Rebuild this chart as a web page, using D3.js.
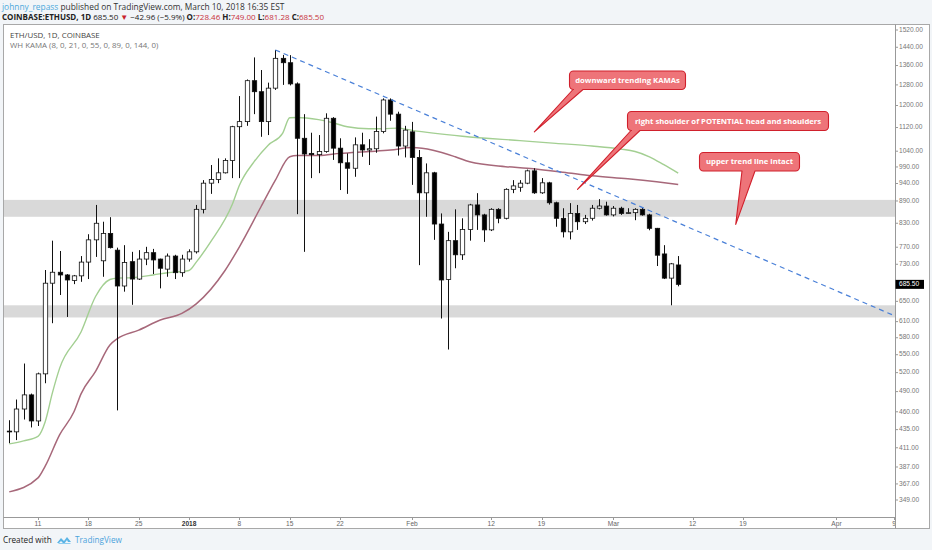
<!DOCTYPE html>
<html>
<head>
<meta charset="utf-8">
<script src="https://cdn.jsdelivr.net/npm/d3@7"></script>
<style>
  body { margin: 0; background: #f2f5f8; }
  svg { display: block; }
  text { font-family: "Open Sans", sans-serif; }
  .axis text { font-family: "Liberation Sans", sans-serif; }
</style>
</head>
<body>
<div id="container"></div>
<script>
// ETH/USD daily candles, Dec 7 2017 -> Mar 10 2018
const firstDay = '2017-12-07';
const openPrices = [
  433, 432, 464, 485, 447, 518, 688, 712, 706, 694, 704, 735, 788, 738, 804, 763, 682, 736, 697, 742, 757, 742, 719, 749, 711,
  742, 759, 867, 941, 952, 972, 1010, 1123, 1141, 1297, 1253, 1141, 1267, 1391, 1372, 1284, 1083, 1033, 1029, 1039, 1153, 1050, 1003, 986, 1061, 1044, 1048, 1106, 1221, 1168, 1057,
  1105, 1020, 913, 972, 828, 696, 786, 752, 814, 879, 852, 813, 867, 843, 923, 929, 941, 978, 913, 942, 885, 843, 808, 856, 834, 843, 870, 876,
  852, 870, 856, 858, 867, 852, 817, 754, 699, 728.46,
];
const highPrices = [
  448, 478, 535, 487, 520, 717, 786, 761, 708, 706, 749, 802, 879, 834, 846, 769, 775, 759, 763, 771, 766, 743, 755, 752, 752,
  765, 879, 950, 996, 1017, 1017, 1126, 1236, 1302, 1395, 1341, 1289, 1428, 1406, 1405, 1290, 1168, 1102, 1094, 1171, 1157, 1083, 1033, 1086, 1102, 1080, 1159, 1227, 1227, 1177, 1126,
  1140, 1044, 1001, 975, 856, 808, 867, 843, 882, 912, 855, 870, 870, 926, 950, 950, 982, 986, 956, 945, 888, 870, 884, 879, 852, 879, 895, 888,
  876, 874, 870, 870, 872, 855, 818, 775, 733, 749.0,
];
const lowPrices = [
  417, 421, 449, 438, 440, 503, 607, 663, 619, 686, 691, 697, 747, 702, 767, 462, 670, 643, 695, 728, 708, 677, 702, 697, 702,
  736, 755, 856, 910, 941, 970, 956, 956, 1126, 1168, 1088, 1094, 1260, 1280, 1278, 854, 759, 956, 971, 1035, 1012, 921, 910, 960, 1022, 996, 1035, 1100, 1144, 1026, 1020,
  936, 728, 847, 788, 616, 559, 721, 740, 786, 813, 783, 810, 830, 840, 912, 916, 938, 910, 910, 880, 821, 794, 789, 813, 828, 837, 867, 850,
  848, 852, 855, 838, 850, 812, 726, 697, 642, 681.28,
];
const closePrices = [
  432, 464, 485, 447, 518, 688, 712, 706, 695, 704, 735, 788, 830, 804, 769, 682, 734, 697, 742, 757, 740, 721, 749, 711, 742,
  759, 867, 941, 952, 972, 1010, 1123, 1141, 1297, 1253, 1141, 1267, 1391, 1372, 1284, 1083, 1031, 1029, 1039, 1153, 1050, 1003, 986, 1061, 1044, 1048, 1106, 1221, 1168, 1057, 1111,
  1020, 913, 972, 828, 695, 786, 752, 814, 879, 852, 813, 867, 843, 923, 933, 941, 978, 913, 942, 885, 843, 808, 856, 834, 843, 870, 876, 852,
  870, 856, 858, 867, 852, 817, 751, 699, 731, 685.5,
];

// WH KAMA lines, sampled where they could be read
const fastKamaDates = ['2017-12-07', '2017-12-09', '2017-12-11', '2017-12-12', '2017-12-13', '2017-12-14', '2017-12-17', '2017-12-19',
  '2017-12-21', '2017-12-22', '2017-12-24', '2017-12-27', '2017-12-29', '2018-01-01', '2018-01-02', '2018-01-04', '2018-01-07',
  '2018-01-08', '2018-01-10', '2018-01-12', '2018-01-14', '2018-01-15', '2018-01-16', '2018-01-19', '2018-01-21', '2018-01-23',
  '2018-01-26', '2018-01-28', '2018-01-30', '2018-02-01', '2018-02-08', '2018-02-16', '2018-02-21', '2018-02-26', '2018-03-02',
  '2018-03-04', '2018-03-06', '2018-03-08', '2018-03-10'];
const fastKamaValues = [416, 420, 426, 446, 488, 527, 591, 660, 696, 699, 700, 706, 711, 716, 735, 783, 880,
  935, 1005, 1060, 1100, 1155, 1156, 1148, 1137, 1123, 1116, 1116, 1118, 1110, 1090, 1075, 1066, 1057, 1047,
  1039, 1022, 997, 971];
const slowKamaDates = ['2017-12-07', '2017-12-11', '2017-12-12', '2017-12-14', '2017-12-16', '2017-12-17', '2017-12-19', '2017-12-21',
  '2017-12-22', '2017-12-25', '2017-12-28', '2017-12-31', '2018-01-02', '2018-01-06', '2018-01-08', '2018-01-11', '2018-01-13',
  '2018-01-15', '2018-01-16', '2018-01-19', '2018-01-22', '2018-01-26', '2018-01-29', '2018-02-01', '2018-02-07', '2018-02-09',
  '2018-02-14', '2018-02-17', '2018-02-22', '2018-02-26', '2018-03-03', '2018-03-07', '2018-03-10'];
const slowKamaValues = [358, 374, 388, 428, 460, 487, 522, 567, 578, 594, 613, 626, 645, 716, 771, 874, 950,
  1022, 1026, 1026, 1033, 1039, 1044, 1052, 1022, 1006, 991, 986, 974, 963, 954, 945, 937];

// support / resistance zones [low, high]
const zones = [[847, 893], [618, 642]];
// trend line through the Jan 13 high
const trendDates = ['2018-01-13', '2018-03-10'];
const trendPrices = [1428, 831];

const priceTicks = [1520, 1440, 1360, 1280, 1200, 1120, 1040, 990, 940, 890, 830, 770, 730, 650, 610, 580, 550,
  520, 490, 460, 435, 411, 387, 367, 349];
const timeTicks = ['2017-12-11', '2017-12-18', '2017-12-25', '2018-01-01', '2018-01-08', '2018-01-15', '2018-01-22',
  '2018-02-01', '2018-02-12', '2018-02-19', '2018-03-01', '2018-03-12', '2018-03-19', '2018-04-01', '2018-04-09'];
const timeTickLabels = ['11', '18', '25', '2018', '8', '15', '22', 'Feb', '12', '19', 'Mar', '12', '19', 'Apr', '9'];

const lastPrice = 685.5;

const callouts = [
  { text: 'downward trending KAMAs', box: [569.5, 71, 116, 18.5], base: [573, 583], tip: ['2018-02-18', 1105] },
  { text: 'right shoulder of POTENTIAL head and shoulders', box: [627.5, 111.5, 201, 19], base: [631, 640], tip: ['2018-02-24', 923] },
  { text: 'upper trend line intact', box: [699.5, 152.5, 100, 18.5], base: [742, 755], tip: ['2018-03-18', 827] },
];

const parse = d3.timeParse('%Y-%m-%d');
const width = 932;
const height = 550;
const plot = { left: 4, right: 895, top: 25, bottom: 517 };

const start = parse(firstDay);
const candles = closePrices.map((c, i) => ({
  date: d3.timeDay.offset(start, i),
  open: openPrices[i],
  high: highPrices[i],
  low: lowPrices[i],
  close: c,
}));

const x = d3.scaleTime()
  .domain([parse('2017-12-11'), parse('2018-04-09')])
  .range([38, 894]);
const y = d3.scaleLog()
  .domain([1520, 349])
  .range([30, 500]);

const svg = d3.select('#container')
  .append('svg')
  .attr('width', width)
  .attr('height', height);

// header
const head1 = svg.append('text').attr('x', 2).attr('y', 9.5).attr('font-size', 8.4);
head1.append('tspan').attr('fill', '#4ea9dc').text('johnny_repass');
head1.append('tspan').attr('fill', '#333').text(' published on TradingView.com, March 10, 2018 16:35 EST');

const head2 = svg.append('text').attr('x', 2).attr('y', 19.5).attr('font-size', 8).attr('fill', '#222');
const parts = [
  ['COINBASE:ETHUSD, 1D', '#222', 'bold'],
  [' 685.50 ', '#222', 'normal'],
  ['\u25BC', '#c8232c', 'normal'],
  [' \u221242.96 (\u22125.9%) ', '#222', 'normal'],
  ['O:', '#222', 'bold'], ['728.46 ', '#c8323a', 'normal'],
  ['H:', '#222', 'bold'], ['749.00 ', '#c8323a', 'normal'],
  ['L:', '#222', 'bold'], ['681.28 ', '#c8323a', 'normal'],
  ['C:', '#222', 'bold'], ['685.50', '#c8323a', 'normal'],
];
parts.forEach(p => {
  head2.append('tspan').attr('fill', p[1]).attr('font-weight', p[2]).text(p[0]);
});

// chart frame
svg.append('rect')
  .attr('x', 3.5).attr('y', 24.5)
  .attr('width', 926).attr('height', 504)
  .attr('fill', '#fff')
  .attr('stroke', '#a8a8a8');

svg.append('defs').append('clipPath').attr('id', 'plotclip')
  .append('rect')
  .attr('x', plot.left).attr('y', plot.top)
  .attr('width', plot.right - plot.left).attr('height', plot.bottom - plot.top);

const g = svg.append('g').attr('clip-path', 'url(#plotclip)');

// zones
g.selectAll('.zone')
  .data(zones)
  .enter()
  .append('rect')
  .attr('class', 'zone')
  .attr('x', plot.left)
  .attr('width', plot.right - plot.left)
  .attr('y', d => y(d[1]))
  .attr('height', d => y(d[0]) - y(d[1]))
  .attr('fill', '#d9d9d9');

// KAMA lines
const kamaLine = d3.line()
  .x(d => x(d[0]))
  .y(d => y(d[1]))
  .curve(d3.curveMonotoneX);

g.append('path')
  .datum(slowKamaDates.map((d, i) => [parse(d), slowKamaValues[i]]))
  .attr('d', kamaLine)
  .attr('fill', 'none')
  .attr('stroke', '#a7687a')
  .attr('stroke-width', 1.5);

g.append('path')
  .datum(fastKamaDates.map((d, i) => [parse(d), fastKamaValues[i]]))
  .attr('d', kamaLine)
  .attr('fill', 'none')
  .attr('stroke', '#a3cf92')
  .attr('stroke-width', 1.4);

// candles
const bodyW = 4.4;
const c = g.selectAll('.candle')
  .data(candles)
  .enter()
  .append('g')
  .attr('class', 'candle');

c.append('line')
  .attr('x1', d => Math.round(x(d.date)) + 0.5)
  .attr('x2', d => Math.round(x(d.date)) + 0.5)
  .attr('y1', d => y(d.high))
  .attr('y2', d => y(d.low))
  .attr('stroke', '#111')
  .attr('stroke-width', 1);

c.append('rect')
  .attr('x', d => Math.round(x(d.date)) + 0.5 - bodyW / 2)
  .attr('width', bodyW)
  .attr('y', d => y(Math.max(d.open, d.close)))
  .attr('height', d => Math.max(0.8, y(Math.min(d.open, d.close)) - y(Math.max(d.open, d.close))))
  .attr('fill', d => (d.close >= d.open ? '#fff' : '#000'))
  .attr('stroke', '#111')
  .attr('stroke-width', 0.8);

// trend line, extended to the right edge
const t0 = [x(parse(trendDates[0])), y(trendPrices[0])];
const t1 = [x(parse(trendDates[1])), y(trendPrices[1])];
const slope = (t1[1] - t0[1]) / (t1[0] - t0[0]);
g.append('line')
  .attr('x1', t0[0]).attr('y1', t0[1])
  .attr('x2', plot.right).attr('y2', t0[1] + slope * (plot.right - t0[0]))
  .attr('stroke', '#4a80d8')
  .attr('stroke-width', 1.2)
  .attr('stroke-dasharray', '5,4');

// callouts
function calloutPath(b, base, tip) {
  const [bx, by, bw, bh] = b;
  const r = 4;
  const p = d3.path();
  p.moveTo(bx + r, by);
  p.lineTo(bx + bw - r, by);
  p.arcTo(bx + bw, by, bx + bw, by + r, r);
  p.lineTo(bx + bw, by + bh - r);
  p.arcTo(bx + bw, by + bh, bx + bw - r, by + bh, r);
  p.lineTo(base[1], by + bh);
  p.lineTo(tip[0], tip[1]);
  p.lineTo(base[0], by + bh);
  p.lineTo(bx + r, by + bh);
  p.arcTo(bx, by + bh, bx, by + bh - r, r);
  p.lineTo(bx, by + r);
  p.arcTo(bx, by, bx + r, by, r);
  p.closePath();
  return p.toString();
}

callouts.forEach(co => {
  const tip = [x(parse(co.tip[0])), y(co.tip[1])];
  svg.append('path')
    .attr('d', calloutPath(co.box, co.base, tip))
    .attr('fill', '#ee7479')
    .attr('stroke', '#d0202c')
    .attr('stroke-width', 1.1)
    .attr('stroke-linejoin', 'round');
  svg.append('text')
    .attr('x', co.box[0] + co.box[2] / 2)
    .attr('y', co.box[1] + co.box[3] / 2 + 0.5)
    .attr('text-anchor', 'middle')
    .attr('dominant-baseline', 'middle')
    .attr('font-family', 'DejaVu Sans, sans-serif')
    .attr('font-size', 7.7)
    .attr('font-weight', 'bold')
    .attr('fill', '#fff')
    .text(co.text);
});

// legend
svg.append('text').attr('x', 10).attr('y', 37.5).attr('font-size', 7.9).attr('fill', '#444')
  .text('ETH/USD, 1D, COINBASE');
svg.append('text').attr('x', 10).attr('y', 47.5).attr('font-size', 7.9).attr('fill', '#777')
  .text('WH KAMA (8, 0, 21, 0, 55, 0, 89, 0, 144, 0)');

// price axis
const pa = svg.append('g').attr('class', 'axis');
pa.append('line')
  .attr('x1', plot.right + 0.5).attr('x2', plot.right + 0.5)
  .attr('y1', 24.5).attr('y2', 528.5)
  .attr('stroke', '#999');
pa.selectAll('.pt')
  .data(priceTicks)
  .enter()
  .append('line')
  .attr('x1', plot.right + 0.5).attr('x2', plot.right + 3)
  .attr('y1', d => y(d)).attr('y2', d => y(d))
  .attr('stroke', '#999');
pa.selectAll('.pl')
  .data(priceTicks)
  .enter()
  .append('text')
  .attr('x', plot.right + 4)
  .attr('y', d => y(d))
  .attr('dominant-baseline', 'middle')
  .attr('font-size', 6.6)
  .attr('fill', '#777')
  .text(d => d3.format('.2f')(d));

pa.append('rect')
  .attr('x', plot.right + 0.5).attr('y', y(lastPrice) - 4.5)
  .attr('width', 28.5).attr('height', 9)
  .attr('fill', '#000');
pa.append('text')
  .attr('x', plot.right + 4)
  .attr('y', y(lastPrice) + 0.3)
  .attr('dominant-baseline', 'middle')
  .attr('font-size', 6.6)
  .attr('fill', '#fff')
  .text(d3.format('.2f')(lastPrice));

// time axis
const ta = svg.append('g').attr('class', 'axis');
ta.append('line')
  .attr('x1', 3.5).attr('x2', plot.right + 0.5)
  .attr('y1', plot.bottom + 0.5).attr('y2', plot.bottom + 0.5)
  .attr('stroke', '#999');
svg.append('defs').append('clipPath').attr('id', 'timeclip')
  .append('rect')
  .attr('x', plot.left).attr('y', plot.bottom)
  .attr('width', plot.right - plot.left).attr('height', 12);
const tt = ta.append('g').attr('clip-path', 'url(#timeclip)');
tt.selectAll('.tt')
  .data(timeTicks)
  .enter()
  .append('line')
  .attr('x1', d => Math.round(x(parse(d))) + 0.5)
  .attr('x2', d => Math.round(x(parse(d))) + 0.5)
  .attr('y1', plot.bottom + 0.5).attr('y2', plot.bottom + 3)
  .attr('stroke', '#999');
tt.selectAll('.tl')
  .data(timeTicks)
  .enter()
  .append('text')
  .attr('x', d => x(parse(d)))
  .attr('y', plot.bottom + 7.5)
  .attr('text-anchor', 'middle')
  .attr('dominant-baseline', 'middle')
  .attr('font-size', 6.6)
  .attr('fill', (d, i) => (timeTickLabels[i] === '2018' ? '#333' : '#666'))
  .attr('font-weight', (d, i) => (timeTickLabels[i] === '2018' ? 'bold' : 'normal'))
  .text((d, i) => timeTickLabels[i]);

// footer
svg.append('text').attr('x', 3).attr('y', 543).attr('font-size', 8.2).attr('fill', '#222')
  .text('Created with');
const logo = svg.append('g').attr('transform', 'translate(57,536)');
logo.append('path')
  .attr('d', 'M0,7 L4,2 L7,5 L10,1 L14,6 L11,6 L10,4 L7,8 L4,5 L2,7 Z')
  .attr('fill', '#5bb4e5');
logo.append('path')
  .attr('d', 'M1,8 L13,8 L14,7 L2,7 Z')
  .attr('fill', '#8fcdef');
svg.append('text').attr('x', 75).attr('y', 543).attr('font-size', 8.2).attr('fill', '#4ba3dc')
  .text('TradingView');
</script>
</body>
</html>
